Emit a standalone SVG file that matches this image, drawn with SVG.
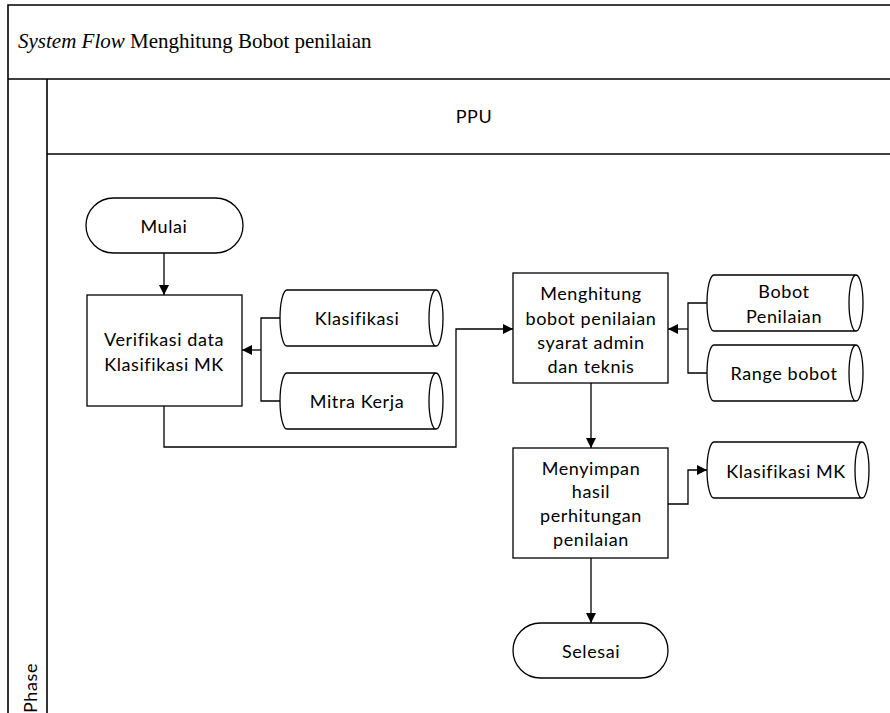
<svg xmlns="http://www.w3.org/2000/svg" width="890" height="713" viewBox="0 0 890 713">
<style>
.ln{fill:none;stroke:#000;stroke-width:1.3}
.fr{fill:none;stroke:#000;stroke-width:1.6}
.sh{fill:#fff;stroke:#000;stroke-width:1.3}
.t{font-family:Lato,"Open Sans",sans-serif;font-size:18px;letter-spacing:0.6px;fill:#000;text-anchor:middle}
.ttl{font-family:"Liberation Serif",serif;font-size:21px;fill:#000}
</style>
<defs>
<marker id="ah" viewBox="0 0 10 10" refX="10" refY="5" markerWidth="10" markerHeight="10" markerUnits="userSpaceOnUse" orient="auto">
<path d="M0,0 L10,5 L0,10 Z" fill="#000"/>
</marker>
</defs>
<rect width="890" height="713" fill="#fff"/>
<g id="pool">
<path class="fr" d="M890,5 H8 V713"/>
<line x1="8" y1="79" x2="890" y2="79" class="fr"/>
<line x1="47" y1="79" x2="47" y2="713" class="fr"/>
<line x1="47" y1="154" x2="890" y2="154" class="fr"/>
<text x="18" y="48" class="ttl"><tspan font-style="italic">System Flow</tspan> Menghitung Bobot penilaian</text>
<text x="474" y="123" class="t" letter-spacing="0">PPU</text>
<text transform="translate(37,688) rotate(-90)" class="t" letter-spacing="0">Phase</text>
</g>
<g id="connectors">
<path class="ln" d="M164,253 V295" marker-end="url(#ah)"/>
<path class="ln" d="M280,318 H261 V401 H280"/>
<path class="ln" d="M261,350 H242" marker-end="url(#ah)"/>
<path class="ln" d="M164,406 V447 H456 V329 H513" marker-end="url(#ah)"/>
<path class="ln" d="M707,303 H688 V373 H707"/>
<path class="ln" d="M688,329 H668" marker-end="url(#ah)"/>
<path class="ln" d="M591,383 V448" marker-end="url(#ah)"/>
<path class="ln" d="M668,504 H688 V470 H707" marker-end="url(#ah)"/>
<path class="ln" d="M591,558 V623" marker-end="url(#ah)"/>
</g>
<g id="mulai">
<rect x="86" y="198" width="157" height="55" rx="27.5" class="sh"/>
<text x="164" y="233" class="t">Mulai</text>
</g>
<g id="verifikasi">
<rect x="87" y="295" width="155" height="111" class="sh"/>
<text x="164" y="346" class="t">Verifikasi data</text>
<text x="164" y="371" class="t">Klasifikasi MK</text>
</g>
<g id="klasifikasi">
<path class="sh" d="M287,290 L436,290 A7,28 0 0 1 436,346 L287,346 A7,28 0 0 1 287,290 Z M436,290 A7,28 0 0 0 436,346"/>
<text x="357" y="325" class="t">Klasifikasi</text>
</g>
<g id="mitra">
<path class="sh" d="M287,373 L436,373 A7,28 0 0 1 436,429 L287,429 A7,28 0 0 1 287,373 Z M436,373 A7,28 0 0 0 436,429"/>
<text x="357" y="408" class="t">Mitra Kerja</text>
</g>
<g id="menghitung">
<rect x="513" y="273" width="155" height="110" class="sh"/>
<text x="591" y="300" class="t">Menghitung</text>
<text x="591" y="325" class="t">bobot penilaian</text>
<text x="591" y="349" class="t">syarat admin</text>
<text x="591" y="373" class="t">dan teknis</text>
</g>
<g id="bobot">
<path class="sh" d="M714,275 L856,275 A7,28 0 0 1 856,331 L714,331 A7,28 0 0 1 714,275 Z M856,275 A7,28 0 0 0 856,331"/>
<text x="784" y="298" class="t">Bobot</text>
<text x="784" y="323" class="t">Penilaian</text>
</g>
<g id="range">
<path class="sh" d="M714,345 L856,345 A7,28 0 0 1 856,401 L714,401 A7,28 0 0 1 714,345 Z M856,345 A7,28 0 0 0 856,401"/>
<text x="784" y="380" class="t">Range bobot</text>
</g>
<g id="menyimpan">
<rect x="513" y="448" width="155" height="110" class="sh"/>
<text x="591" y="475" class="t">Menyimpan</text>
<text x="591" y="498" class="t">hasil</text>
<text x="591" y="522" class="t">perhitungan</text>
<text x="591" y="546" class="t">penilaian</text>
</g>
<g id="klasifikasimk">
<path class="sh" d="M714,442 L862,442 A7,28 0 0 1 862,498 L714,498 A7,28 0 0 1 714,442 Z M862,442 A7,28 0 0 0 862,498"/>
<text x="786" y="478" class="t">Klasifikasi MK</text>
</g>
<g id="selesai">
<rect x="513" y="623" width="155" height="55" rx="27.5" class="sh"/>
<text x="591" y="658" class="t">Selesai</text>
</g>
</svg>
